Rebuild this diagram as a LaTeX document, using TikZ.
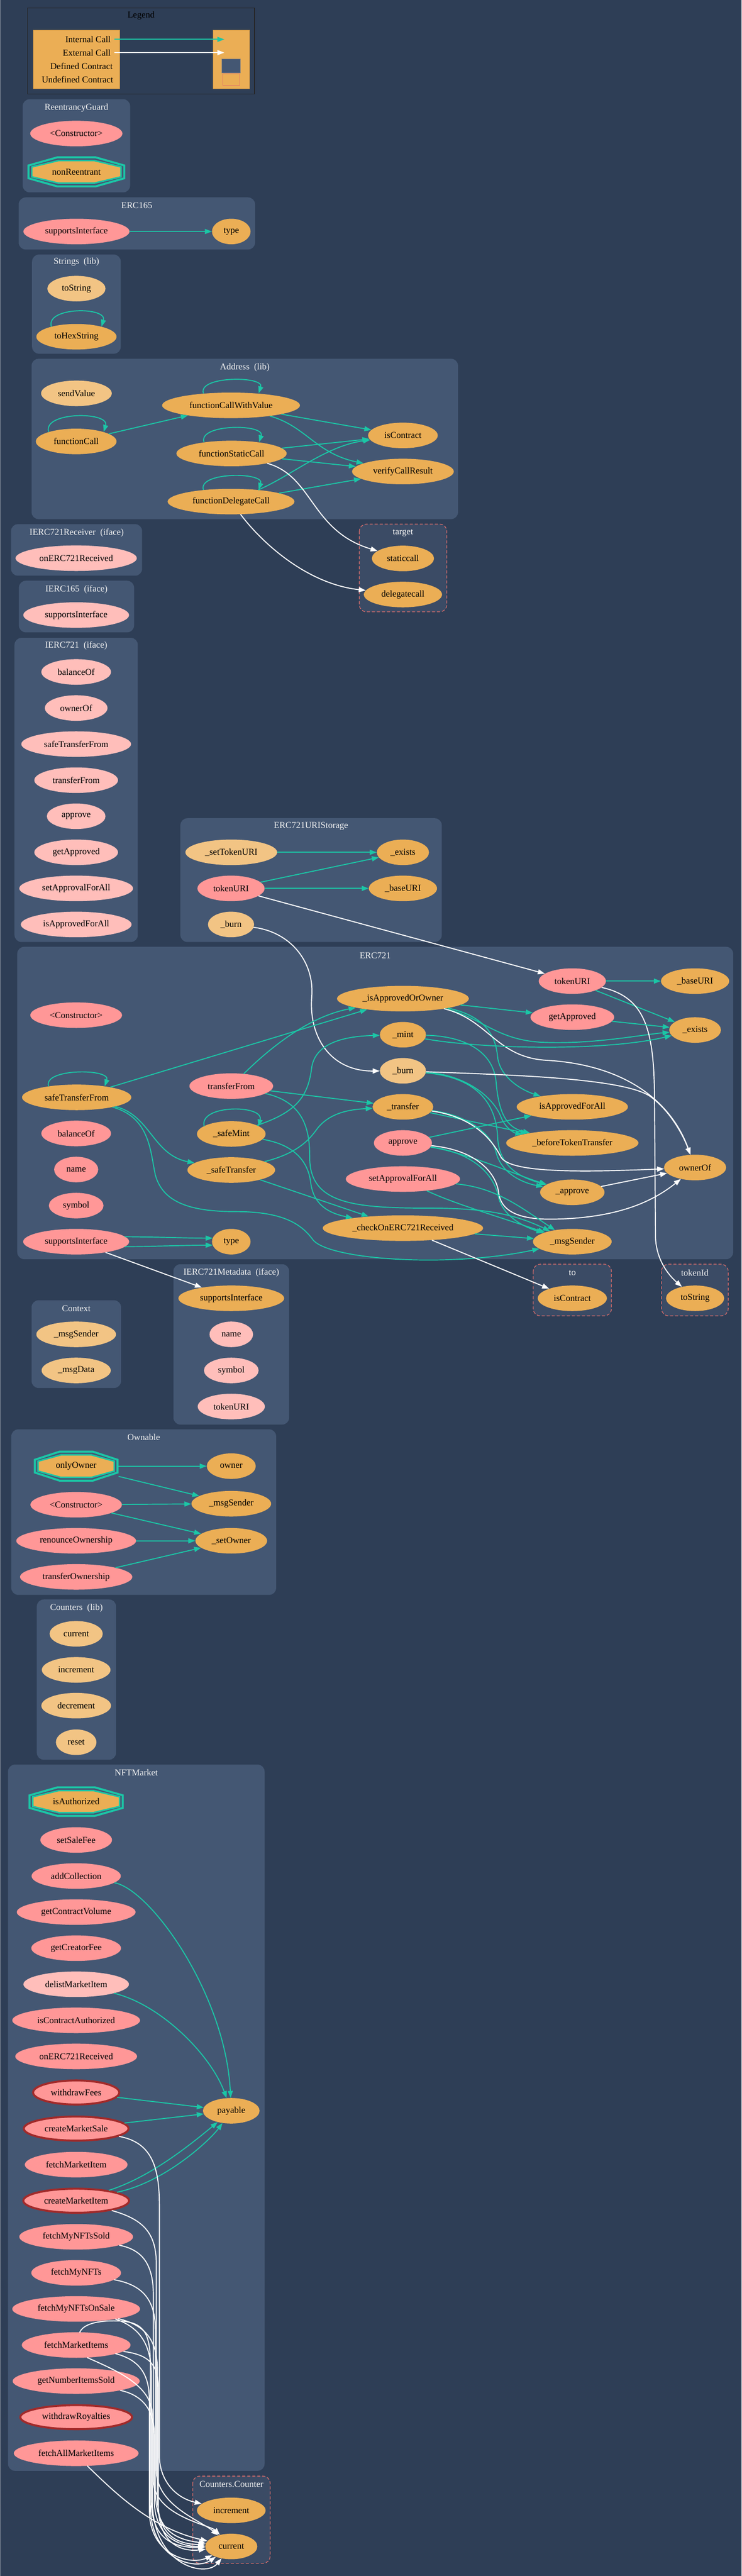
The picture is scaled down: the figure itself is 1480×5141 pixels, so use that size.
\documentclass[tikz,border=0pt]{standalone}
\usepackage{fontspec}
\setmainfont{Liberation Serif}
\usetikzlibrary{arrows.meta,calc,shapes.geometric}
\definecolor{cBg}{HTML}{2E3E56}
\definecolor{cClus}{HTML}{445773}
\definecolor{cUnd}{HTML}{3B4B65}
\definecolor{cOrange}{HTML}{EBAE55}
\definecolor{cLOrange}{HTML}{F2C484}
\definecolor{cPink}{HTML}{FF9797}
\definecolor{cLPink}{HTML}{FFBEBA}
\definecolor{cTeal}{HTML}{1BC6A6}
\definecolor{cRed}{HTML}{A12A2A}
\definecolor{cDash}{HTML}{E06E6B}
\definecolor{cTitle}{HTML}{F2F2F2}
\newcommand{\nf}{\fontsize{18}{21}\selectfont}
\newcommand{\sloop}[4]{\draw[tE] ($(#1.center)+(-#2,#3)$) .. controls +(-12,-#4) and +(12,-#4) .. ($(#1.center)+(#2,#3)$);}
\newcommand{\octo}[6]{%
 \begin{scope}[shift={(#2,#3)}]
  \pgfmathsetmacro{\oa}{#4-2}\pgfmathsetmacro{\ob}{#5-2}
  \draw[cTeal,line width=4pt] (-0.4*\oa,-\ob) -- (0.4*\oa,-\ob) -- (\oa,-0.44*\ob) -- (\oa,0.44*\ob) -- (0.4*\oa,\ob) -- (-0.4*\oa,\ob) -- (-\oa,0.44*\ob) -- (-\oa,-0.44*\ob) -- cycle;
  \pgfmathsetmacro{\oa}{#4-8.5}\pgfmathsetmacro{\ob}{#5-8.5}
  \draw[cTeal,line width=3pt,fill=cOrange] (-0.4*\oa,-\ob) -- (0.4*\oa,-\ob) -- (\oa,-0.44*\ob) -- (\oa,0.44*\ob) -- (0.4*\oa,\ob) -- (-0.4*\oa,\ob) -- (-\oa,0.44*\ob) -- (-\oa,-0.44*\ob) -- cycle;
 \end{scope}
 \node[font=\nf, inner sep=0pt, minimum width={2*#4}, minimum height={2*#5}] (#1) at (#2,#3) {#6};}
\begin{document}
\begin{tikzpicture}[x=1pt,y=-1pt,
 fn/.style={ellipse, inner sep=0pt, minimum height=51pt, font=\nf, text=black},
 fo/.style={fn, fill=cOrange},
 flo/.style={fn, fill=cLOrange},
 fp/.style={fn, fill=cPink},
 flp/.style={fn, fill=cLPink},
 fthick/.style={fn, fill=cPink, draw=cRed, line width=4pt},
 clus/.style={fill=cClus, rounded corners=14pt},
 uclus/.style={draw=cDash, line width=1.3pt, dash pattern=on 6pt off 4pt, fill=cUnd, rounded corners=14pt},
 ctitle/.style={text=cTitle, font=\nf, inner sep=0pt},
 tE/.style={draw=cTeal, line width=2pt, -{Triangle[length=14pt,width=10pt]}},
 wE/.style={draw=white, line width=2pt, -{Triangle[length=14pt,width=10pt]}}]
\fill[cBg] (0,0) rectangle (1480,5141);
\useasboundingbox (0,0) rectangle (1480,5141);
\fill[cBg!60!white] (0,0) rectangle (1.5,5141);

% ---------------- Legend
\draw[black!85, line width=1.5pt] (55,16) rectangle (508,187.5);
\node[font=\nf, text=black, inner sep=0pt] (legT) at (281.5,31) {Legend};
\fill[cOrange, draw=cOrange!75!black, line width=0.8pt] (66,60) rectangle (239,177);
\fill[cOrange, draw=cOrange!75!black, line width=0.8pt] (425,60) rectangle (497.7,177);
\node[anchor=east, font=\nf, inner sep=0pt] (lg1) at (221,78.6) {Internal Call};
\node[anchor=east, font=\nf, inner sep=0pt] (lg2) at (221,105) {External Call};
\node[anchor=east, font=\nf, inner sep=0pt] (lg3) at (225,132) {Defined Contract};
\node[anchor=east, font=\nf, inner sep=0pt] (lg4) at (226,158.5) {Undefined Contract};
\coordinate (la1) at (228,78.6); \coordinate (lb1) at (447.7,78.6);
\coordinate (la2) at (228,105); \coordinate (lb2) at (447.7,105);
\draw[tE] (la1) -- (lb1);
\draw[wE] (la2) -- (lb2);
\fill[cClus, draw=gray, line width=0.8pt] (443,118) rectangle (480,145.7);
\draw[cDash, line width=0.8pt] (445,147) rectangle (478,170);

% ---------------- Clusters
\fill[clus] (45.3,198) rectangle (259.7,384);
\node[ctitle] (tRG) at (152.5,215) {ReentrancyGuard};
\fill[clus] (37.3,394) rectangle (509,498);
\node[ctitle] (tE165) at (273,410) {ERC165};
\fill[clus] (64,508) rectangle (241,706);
\node[ctitle] (tStr) at (152.5,523) {Strings~~(lib)};
\fill[clus] (63,716) rectangle (914,1036);
\node[ctitle] (tAddr) at (488.5,733) {Address~~(lib)};
\filldraw[uclus] (717,1046) rectangle (891.5,1221);
\node[ctitle] (tTarget) at (804,1063.5) {target};
\fill[clus] (22,1046) rectangle (283.5,1149);
\node[ctitle] (tIRec) at (153,1063.5) {IERC721Receiver~~(iface)};
\fill[clus] (37.6,1159) rectangle (267.6,1262);
\node[ctitle] (tI165) at (152.6,1176) {IERC165~~(iface)};
\fill[clus] (29,1273) rectangle (275,1880);
\node[ctitle] (tI721) at (152,1289) {IERC721~~(iface)};
\fill[clus] (360,1633) rectangle (881.5,1880);
\node[ctitle] (tURIS) at (620.7,1649) {ERC721URIStorage};
\fill[clus] (34.4,1889.5) rectangle (1463,2513);
\node[ctitle] (tE721) at (748.7,1907) {ERC721};
\filldraw[uclus] (1064,2523) rectangle (1220,2626);
\node[ctitle] (tTo) at (1142,2540) {to};
\filldraw[uclus] (1320,2523) rectangle (1453,2626);
\node[ctitle] (tTok) at (1386.5,2540) {tokenId};
\fill[clus] (346,2523) rectangle (577,2843);
\node[ctitle] (tMeta) at (461.5,2540) {IERC721Metadata~~(iface)};
\fill[clus] (63,2595) rectangle (241.6,2770);
\node[ctitle] (tCtx) at (152.3,2611.4) {Context};
\fill[clus] (22.6,2852.5) rectangle (551,3183);
\node[ctitle] (tOwn) at (286.8,2868.6) {Ownable};
\fill[clus] (73.5,3192) rectangle (231.5,3512);
\node[ctitle] (tCnt) at (152.5,3209) {Counters~~(lib)};
\fill[clus] (16,3521.6) rectangle (528,4931);
\node[ctitle] (tNFT) at (272,3538) {NFTMarket};
\filldraw[uclus] (384.6,4941.6) rectangle (539,5115.7);
\node[ctitle] (tCC) at (461.8,4957.7) {Counters.Counter};

% ---------------- Nodes
\node[fp, minimum width=184pt] (rgC) at (152.3,266.5) {<Constructor>};
\octo{rgN}{152.5}{343}{97.5}{31}{nonReentrant}

\node[fp, minimum width=211.7pt] (e165sI) at (152.5,462) {supportsInterface};
\node[fo, minimum width=77pt] (e165type) at (461.5,462) {type};

\node[flo, minimum width=116pt] (sToS) at (152.5,576) {toString};
\node[fo, minimum width=160pt] (sToHex) at (152.5,672) {toHexString};

\node[flo, minimum width=141pt] (aSV) at (152.5,785) {sendValue};
\node[fo, minimum width=275pt] (aFCWV) at (461,809) {functionCallWithValue};
\node[fo, minimum width=161pt] (aFC) at (152,881) {functionCall};
\node[fo, minimum width=220pt] (aFSC) at (462,905) {functionStaticCall};
\node[fo, minimum width=139pt] (aIsC) at (804,869) {isContract};
\node[fo, minimum width=203pt] (aVCR) at (804,941) {verifyCallResult};
\node[fo, minimum width=253pt] (aFDC) at (461,1001) {functionDelegateCall};

\node[fo, minimum width=124pt] (tSC) at (804,1114.5) {staticcall};
\node[fo, minimum width=156pt] (tDC) at (804,1186.5) {delegatecall};

\node[flp, minimum width=242pt] (irOnR) at (152,1114) {onERC721Received};
\node[flp, minimum width=211pt] (i165sI) at (152,1227.5) {supportsInterface};

\node[flp, minimum width=139pt] (iBal) at (152,1341) {balanceOf};
\node[flp, minimum width=125pt] (iOwn) at (152,1413) {ownerOf};
\node[flp, minimum width=219pt] (iSTF) at (152,1485) {safeTransferFrom};
\node[flp, minimum width=167pt] (iTF) at (152,1557) {transferFrom};
\node[flp, minimum width=117pt] (iAp) at (152,1629) {approve};
\node[flp, minimum width=167pt] (iGA) at (152,1701) {getApproved};
\node[flp, minimum width=227pt] (iSAFA) at (152,1773) {setApprovalForAll};
\node[flp, minimum width=221pt] (iIAFA) at (152,1845) {isApprovedForAll};

\node[flo, minimum width=183pt] (uSetT) at (461.5,1701) {\_setTokenURI};
\node[fo, minimum width=104pt] (uEx) at (804,1701) {\_exists};
\node[fp, minimum width=134pt] (uTURI) at (461,1773) {tokenURI};
\node[fo, minimum width=136pt] (uBase) at (804,1773) {\_baseURI};
\node[flo, minimum width=92pt] (uBurn) at (461,1845) {\_burn};

\node[fp, minimum width=183pt] (eC) at (152,2026) {<Constructor>};
\node[fo, minimum width=218pt] (eSTF) at (153,2190) {safeTransferFrom};
\node[fp, minimum width=139pt] (eBal) at (152,2262) {balanceOf};
\node[fp, minimum width=88pt] (eName) at (152,2334) {name};
\node[fp, minimum width=109pt] (eSym) at (152,2406) {symbol};
\node[fp, minimum width=211.5pt] (eSI) at (152,2478) {supportsInterface};
\node[fo, minimum width=77pt] (eType) at (461.5,2478) {type};
\node[fp, minimum width=167pt] (eTF) at (461.5,2167.5) {transferFrom};
\node[fo, minimum width=137pt] (eSM) at (461.5,2263) {\_safeMint};
\node[fo, minimum width=175pt] (eST) at (461.5,2335) {\_safeTransfer};
\node[fo, minimum width=320pt] (eCO) at (804,2451) {\_checkOnERC721Received};
\node[fp, minimum width=134pt] (eTURI) at (1142,1958) {tokenURI};
\node[fo, minimum width=136pt] (eBase) at (1387,1958) {\_baseURI};
\node[fo, minimum width=263pt] (eIA) at (804,1993) {\_isApprovedOrOwner};
\node[fp, minimum width=167pt] (eGA) at (1142,2030) {getApproved};
\node[fo, minimum width=103pt] (eEx) at (1387,2055.6) {\_exists};
\node[fo, minimum width=92pt] (eMint) at (804,2065) {\_mint};
\node[flo, minimum width=92pt] (eBurn) at (804,2137) {\_burn};
\node[fo, minimum width=222pt] (eIAFA) at (1142,2209) {isApprovedForAll};
\node[fo, minimum width=121pt] (eTr) at (804,2209) {\_transfer};
\node[fo, minimum width=264pt] (eBTT) at (1142,2281) {\_beforeTokenTransfer};
\node[fp, minimum width=116pt] (eAp) at (804,2281) {approve};
\node[fo, minimum width=124pt] (eOwn) at (1387,2330) {ownerOf};
\node[fp, minimum width=228pt] (eSAFA) at (804,2353) {setApprovalForAll};
\node[fo, minimum width=128.5pt] (eAp_) at (1142,2379.5) {\_approve};
\node[fo, minimum width=157pt] (eMS) at (1142,2478) {\_msgSender};

\node[fo, minimum width=138pt] (toIC) at (1142,2591) {isContract};
\node[fo, minimum width=116pt] (tkStr) at (1387,2591) {toString};

\node[fo, minimum width=211pt] (mSI) at (461.5,2591) {supportsInterface};
\node[flp, minimum width=87pt] (mName) at (461.5,2663) {name};
\node[flp, minimum width=109pt] (mSym) at (461.5,2735) {symbol};
\node[flp, minimum width=134pt] (mTURI) at (461.5,2807) {tokenURI};

\node[flo, minimum width=159pt] (cMS) at (152,2663) {\_msgSender};
\node[flo, minimum width=138pt] (cMD) at (152,2735) {\_msgData};

\octo{oOO}{152}{2926}{84.5}{31}{onlyOwner}
\node[fo, minimum width=97.6pt] (oOwner) at (461.5,2926) {owner};
\node[fp, minimum width=182.5pt] (oC) at (152,3003) {<Constructor>};
\node[fo, minimum width=159pt] (oMS) at (461.5,3001) {\_msgSender};
\node[fp, minimum width=239pt] (oRO) at (152,3075) {renounceOwnership};
\node[fo, minimum width=143pt] (oSO) at (461.5,3075) {\_setOwner};
\node[fp, minimum width=224pt] (oTO) at (152,3147) {transferOwnership};

\node[flo, minimum width=106pt] (kCur) at (152,3260.6) {current};
\node[flo, minimum width=137pt] (kInc) at (152,3332.6) {increment};
\node[flo, minimum width=139pt] (kDec) at (152,3404) {decrement};
\node[flo, minimum width=81pt] (kRes) at (152,3477) {reset};

\octo{nIA}{152}{3595.5}{95}{30.5}{isAuthorized}
\node[fp, minimum width=143pt] (nSSF) at (152,3672) {setSaleFee};
\node[fp, minimum width=178pt] (nAC) at (152,3744) {addCollection};
\node[fp, minimum width=237pt] (nGCV) at (152,3816) {getContractVolume};
\node[fp, minimum width=179pt] (nGCF) at (152,3888) {getCreatorFee};
\node[flp, minimum width=210.6pt] (nDMI) at (152,3960) {delistMarketItem};
\node[fp, minimum width=255pt] (nICA) at (152,4032) {isContractAuthorized};
\node[fp, minimum width=243pt] (nOER) at (152,4104) {onERC721Received};
\node[fthick, minimum width=172pt, minimum height=48pt] (nWF) at (152,4176) {withdrawFees};
\node[fthick, minimum width=209pt, minimum height=48pt] (nCMS) at (152,4248) {createMarketSale};
\node[fp, minimum width=205pt] (nFMI1) at (152,4320) {fetchMarketItem};
\node[fthick, minimum width=211pt, minimum height=48pt] (nCMI) at (152,4392) {createMarketItem};
\node[fp, minimum width=227pt] (nFMNS) at (152,4464) {fetchMyNFTsSold};
\node[fo, minimum width=113pt] (nPay) at (461.5,4212.5) {payable};
\node[fp, minimum width=179pt] (nFMN) at (152,4536) {fetchMyNFTs};
\node[fp, minimum width=255pt] (nFMNOS) at (152,4608) {fetchMyNFTsOnSale};
\node[fp, minimum width=217pt] (nFMI) at (152,4680) {fetchMarketItems};
\node[fp, minimum width=253.4pt] (nGNIS) at (152,4752) {getNumberItemsSold};
\node[fthick, minimum width=223pt, minimum height=48pt] (nWR) at (152,4824) {withdrawRoyalties};
\node[fp, minimum width=249pt] (nFAMI) at (152,4896) {fetchAllMarketItems};

\node[fo, minimum width=137pt] (ccInc) at (461.5,5010) {increment};
\node[fo, minimum width=104pt] (ccCur) at (461.5,5082) {current};

% ---------------- Edges
\draw[tE] (e165sI) -- (e165type);
\sloop{sToHex}{50}{-20}{40}

\sloop{aFCWV}{55}{-24}{35}
\sloop{aFC}{55}{-19}{41}
\sloop{aFSC}{55}{-22.5}{37}
\sloop{aFDC}{55}{-23.4}{36}
\draw[tE] (aFC) -- (aFCWV);
\draw[tE] (aFCWV) -- (aIsC);
\draw[tE] (aFCWV) .. controls (610,850) and (630,905) .. (aVCR);
\draw[tE] (aFSC) -- (aIsC);
\draw[tE] (aFSC) -- (aVCR);
\draw[tE] (aFDC) .. controls (580,950) and (650,890) .. (aIsC);
\draw[tE] (aFDC) -- (aVCR);
\draw[wE] (aFSC) .. controls (625,950) and (620,1060) .. (tSC);
\draw[wE] (aFDC) .. controls (520,1080) and (610,1165) .. (tDC);

\draw[tE] (uSetT) -- (uEx);
\draw[tE] (uTURI) -- (uEx);
\draw[tE] (uTURI) -- (uBase);
\draw[wE] (uTURI) -- (eTURI);
\draw[wE] (uBurn) .. controls (580,1860) and (628,1920) .. (622,1990) .. controls (616,2070) and (660,2138) .. (eBurn);

\sloop{eSTF}{56}{-22}{36}
\sloop{eSM}{54}{-15}{44}
\draw[tE] (eSTF) -- (eIA);
\draw[tE] (eTF) .. controls (530,2100) and (610,2030) .. (eIA);
\draw[tE] (eTF) -- (eTr);
\draw[tE] (eTF) .. controls (610,2200) and (618,2260) .. (618,2310) .. controls (618,2400) and (700,2411) .. (850,2411) .. controls (960,2411) and (1020,2420) .. (eMS);
\draw[tE] (eSTF) .. controls (300,2225) and (305,2305) .. (eST);
\draw[tE] (eSTF) .. controls (300,2230) and (300,2300) .. (310,2345) .. controls (325,2400) and (380,2418) .. (470,2418) .. controls (560,2418) and (600,2440) .. (625,2475) .. controls (660,2515) and (900,2530) .. (eMS);
\draw[tE] (eSM) .. controls (590,2220) and (615,2190) .. (622,2130) .. controls (630,2080) and (690,2068) .. (eMint);
\draw[tE] (eSM) .. controls (590,2285) and (615,2320) .. (620,2360) .. controls (625,2400) and (650,2420) .. (eCO);
\draw[tE] (eST) .. controls (600,2300) and (620,2270) .. (635,2250) .. controls (660,2220) and (700,2214) .. (eTr);
\draw[tE] (eST) -- (eCO);
\draw[tE] ($(eSI.center)+(97,-10)$) .. controls (330,2469) and (380,2471) .. ($(eType.center)+(-37,-7)$);
\draw[tE] ($(eSI.center)+(97,10)$) .. controls (330,2487) and (380,2485) .. ($(eType.center)+(-37,7)$);
\draw[wE] (eSI) -- (mSI);

\draw[tE] (eIA) -- (eGA);
\draw[tE] (eIA) .. controls (960,2030) and (990,2075) .. (1080,2080) .. controls (1180,2085) and (1280,2065) .. (eEx);
\draw[tE] (eIA) .. controls (980,2030) and (990,2080) .. (993,2110) .. controls (998,2150) and (1040,2175) .. (eIAFA);
\draw[wE] (eIA) .. controls (975,2035) and (990,2110) .. (1090,2116) .. controls (1250,2125) and (1340,2200) .. (eOwn);
\draw[tE] (eTURI) -- (eBase);
\draw[tE] (eTURI) -- (eEx);
\draw[wE] (eTURI) .. controls (1290,1990) and (1306,2060) .. (1306,2200) -- (1308,2470) .. controls (1310,2520) and (1340,2550) .. (tkStr);
\draw[tE] (eGA) -- (eEx);
\draw[tE] (eMint) .. controls (950,2092) and (1200,2100) .. (eEx);
\draw[tE] (eMint) .. controls (930,2068) and (985,2100) .. (990,2160) .. controls (995,2220) and (1010,2250) .. (eBTT);
\draw[tE] (eBurn) .. controls (930,2145) and (985,2190) .. (1000,2230) .. controls (1010,2255) and (1030,2262) .. (eBTT);
\draw[tE] (eBurn) .. controls (950,2150) and (990,2200) .. (993,2270) .. controls (996,2330) and (1040,2350) .. (eAp_);
\draw[wE] (eBurn) .. controls (1000,2145) and (1250,2150) .. (1300,2190) .. controls (1340,2220) and (1365,2270) .. (eOwn);
\draw[tE] (eTr) -- (eBTT);
\draw[tE] (eTr) .. controls (930,2225) and (980,2260) .. (990,2300) .. controls (1000,2340) and (1040,2360) .. (eAp_);
\draw[wE] (eTr) .. controls (950,2230) and (985,2280) .. (1000,2310) .. controls (1020,2340) and (1150,2340) .. (eOwn);
\draw[tE] (eAp) -- (eIAFA);
\draw[tE] (eAp) .. controls (940,2300) and (985,2340) .. (995,2390) .. controls (1005,2430) and (1050,2450) .. (eMS);
\draw[tE] (eAp) .. controls (930,2300) and (1030,2345) .. (eAp_);
\draw[wE] (eAp) .. controls (950,2295) and (990,2340) .. (995,2380) .. controls (1000,2420) and (1040,2435) .. (1110,2433) .. controls (1230,2430) and (1300,2400) .. (eOwn);
\draw[tE] (eSAFA) .. controls (990,2370) and (1040,2410) .. (eMS);
\draw[tE] (eSAFA) .. controls (900,2400) and (1000,2430) .. (eMS);
\draw[tE] (eCO) -- (eMS);
\draw[wE] (eCO) -- (toIC);
\draw[wE] (eAp_) -- (eOwn);

\draw[tE] (oOO) -- (oOwner);
\draw[tE] (oOO) -- (oMS);
\draw[tE] (oC) -- (oMS);
\draw[tE] (oC) -- (oSO);
\draw[tE] (oRO) -- (oSO);
\draw[tE] (oTO) -- (oSO);

\draw[tE] (nAC) .. controls (300,3770) and (450,3980) .. (nPay);
\draw[tE] (nDMI) .. controls (320,4000) and (420,4100) .. (nPay);
\draw[tE] (nWF) -- (nPay);
\draw[tE] (nCMS) -- (nPay);
\draw[tE] (nCMI) .. controls (300,4345) and (380,4280) .. (nPay);
\draw[tE] (nCMI) .. controls (330,4355) and (420,4270) .. (nPay);

\draw[wE] (nCMS) .. controls (300,4275) and (318,4320) .. (318,4400) -- (318,4900) .. controls (318,4950) and (350,4985) .. (ccInc);
\draw[wE] (nCMI) .. controls (290,4430) and (312,4460) .. (312,4520) -- (312,4930) .. controls (312,5000) and (400,5030) .. (ccCur);
\draw[wE] (nFMNS) .. controls (285,4490) and (306,4520) .. (306,4580) -- (306,4950) .. controls (306,5020) and (420,5040) .. (ccCur);
\draw[wE] (nFMN) .. controls (285,4560) and (310,4590) .. (310,4650) -- (310,4970) .. controls (310,5050) and (350,5068) .. (ccCur);
\draw[wE] (nFMNOS) .. controls (290,4640) and (314,4670) .. (314,4730) -- (314,4980) .. controls (314,5060) and (350,5076) .. (ccCur);
\draw[wE] ($(nFMNOS.center)+(78,20)$) .. controls (280,4645) and (302,4680) .. (302,4740) -- (302,4990) .. controls (302,5070) and (350,5085) .. (ccCur);
\draw[wE] (nFMI) .. controls (300,4700) and (316,4720) .. (316,4770) -- (316,5000) .. controls (316,5075) and (360,5093) .. (ccCur);
\draw[wE] ($(nFMI.center)+(78,17)$) .. controls (280,4710) and (298,4740) .. (298,4790) -- (298,5010) .. controls (298,5100) and (380,5120) .. (ccCur);
\draw[wE] ($(nFMI.center)+(22,25)$) .. controls (230,4730) and (304,4760) .. (304,4820) -- (304,4990) .. controls (304,5120) and (410,5145) .. (ccCur);
\draw[wE] ($(nFMI.center)+(7,-25)$) .. controls (165,4640) and (190,4630) .. (240,4632) .. controls (290,4635) and (300,4660) .. (300,4720) -- (300,5000) .. controls (300,5110) and (390,5130) .. (ccCur);
\draw[wE] (nGNIS) .. controls (285,4780) and (308,4810) .. (308,4860) -- (308,4990) .. controls (308,5060) and (355,5082) .. (ccCur);
\draw[wE] ($(nFAMI.center)+(22,25)$) .. controls (230,4975) and (300,5045) .. (ccCur);
\end{tikzpicture}
\end{document}
